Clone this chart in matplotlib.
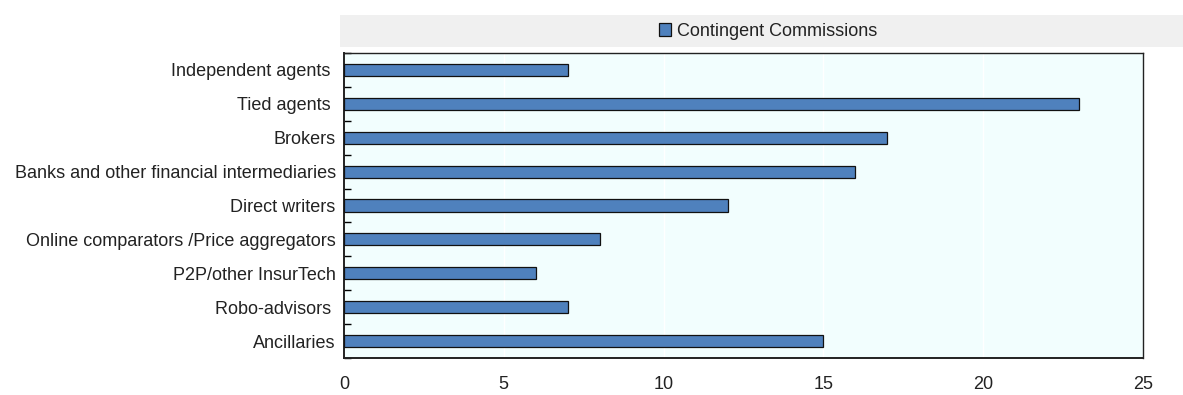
import matplotlib.pyplot as plt
import numpy as np

plt.rcParams["font.family"] = ["Liberation Sans Narrow", "Liberation Sans", "DejaVu Sans"]

categories = ["Independent agents ", "Tied agents ", "Brokers",
              "Banks and other financial intermediaries", "Direct writers",
              "Online comparators /Price aggregators", "P2P/other InsurTech",
              "Robo-advisors ", "Ancillaries"]
values = [7, 23, 17, 16, 12, 8, 6, 7, 15]
series_name = "Contingent Commissions"

fig = plt.figure(figsize=(11.83, 3.95), dpi=100)
ax = fig.add_axes([344 / 1183, 1 - 358 / 395, 799 / 1183, 305 / 395])
ax.set_facecolor("#F2FEFE")

y = np.arange(len(categories))
ax.barh(y, values, height=0.36, color="#4F81BD", edgecolor="#111111",
        linewidth=0.9, label=series_name, zorder=3)

ax.set_xlim(0, 25)
ax.set_ylim(len(categories) - 0.5, -0.5)
ax.set_xticks(np.arange(0, 26, 5))
ax.xaxis.grid(True, color="white", linewidth=1.0, zorder=0)
ax.tick_params(axis="x", length=0, pad=13, labelsize=13, colors="#222222")

ax.set_yticks(y)
ax.set_yticklabels(categories, fontsize=13, color="#222222")
ax.set_yticks(np.arange(len(categories) + 1) - 0.5, minor=True)
ax.tick_params(axis="y", which="major", length=0, pad=6)
ax.tick_params(axis="y", which="minor", direction="in", length=5, width=1.0)

for side in ["left", "bottom", "top", "right"]:
    ax.spines[side].set_color("#222222")
ax.spines["left"].set_linewidth(1.4)
ax.spines["bottom"].set_linewidth(1.4)
ax.spines["top"].set_linewidth(1.0)
ax.spines["right"].set_linewidth(1.0)

# grey legend band above the plot
band = plt.Rectangle((340 / 1183, 1 - 47 / 395), 843 / 1183, 32 / 395,
                     transform=fig.transFigure, facecolor="#F0F0F0",
                     edgecolor="none", zorder=0)
fig.patches.append(band)
fig.legend(loc="center", bbox_to_anchor=(0.649, 1 - 31 / 395), frameon=False,
           fontsize=13, handlelength=0.7, handleheight=0.7, handletextpad=0.3,
           labelcolor="#222222")

fig.savefig("out.png", dpi=100)
